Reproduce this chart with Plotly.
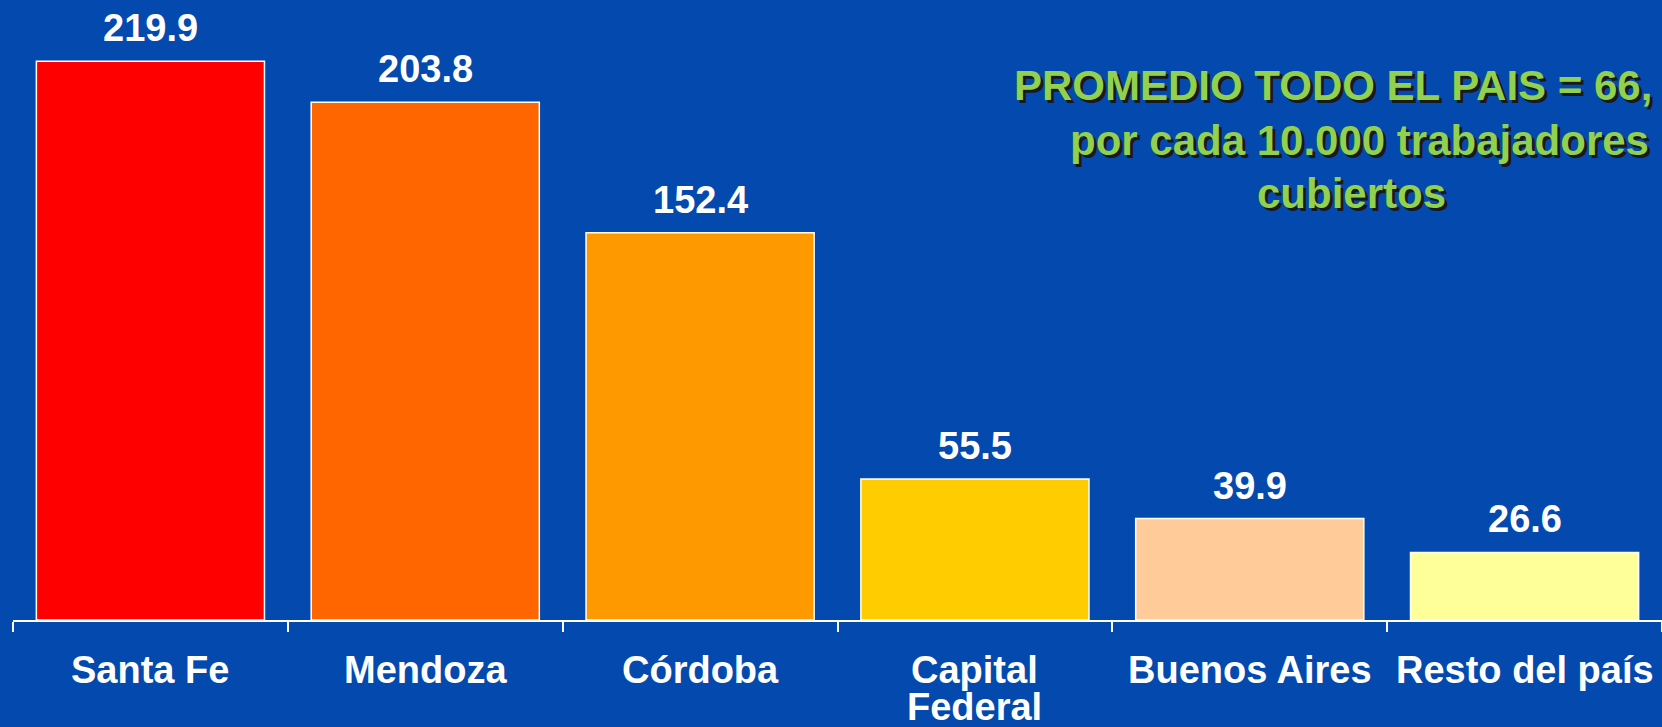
import plotly.graph_objects as go

categories = ["Santa Fe", "Mendoza", "Córdoba", "Capital\nFederal", "Buenos Aires", "Resto del país"]
values = [219.9, 203.8, 152.4, 55.5, 39.9, 26.6]
bar_colors = ["#FF0000", "#FF6600", "#FF9900", "#FFCC00", "#FFCC99", "#FFFF99"]
value_labels = ["219.9", "203.8", "152.4", "55.5", "39.9", "26.6"]
note_lines = ["PROMEDIO TODO EL PAIS = 66,", "por cada 10.000 trabajadores", "cubiertos"]

BG = "#0349AE"
FONT = "Liberation Sans, Arial, sans-serif"
W, H = 1662, 727
ML, MB = 13, 107
PW, PH = W - ML, H - MB

fig = go.Figure()
fig.add_trace(go.Bar(
    x=categories,
    y=values,
    marker=dict(color=bar_colors, line=dict(color="white", width=1.5)),
    hoverinfo="skip",
))

annotations = []
for c, v, t in zip(categories, values, value_labels):
    annotations.append(dict(
        x=c, y=v, xref="x", yref="y", text=t, showarrow=False,
        yanchor="bottom", yshift=10,
        font=dict(family=FONT, size=38, color="white", weight="bold"),
    ))
for c in categories:
    for i, line in enumerate(c.split("\n")):
        annotations.append(dict(
            x=c, y=0, xref="x", yref="y", text=line, showarrow=False,
            yanchor="middle", yshift=-(50 + 37 * i),
            font=dict(family=FONT, size=38, color="white", weight="bold"),
        ))

note_pos = [(1333, 85), (1359, 140), (1351, 193)]  # pixel centres (layout only)
for line, (px, py) in zip(note_lines, note_pos):
    annotations.append(dict(
        x=(px - ML) / PW, y=1 - py / PH, xref="paper", yref="paper",
        text=line, showarrow=False,
        xanchor="center", yanchor="middle",
        font=dict(family=FONT, size=42, color="#92D050", weight="bold",
                  shadow="3px 3px 0px #1a1a1a"),
    ))

fig.update_layout(
    width=W, height=H,
    paper_bgcolor=BG, plot_bgcolor=BG,
    margin=dict(l=ML, r=0, t=0, b=MB),
    bargap=0.17,
    showlegend=False,
    annotations=annotations,
    xaxis=dict(
        showticklabels=False, showgrid=False, zeroline=False,
        showline=True, linecolor="white", linewidth=2,
        ticks="outside", tickson="boundaries", ticklen=10,
        tickcolor="white", tickwidth=2,
    ),
    yaxis=dict(visible=False, range=[0, 244], showgrid=False, zeroline=False),
)

fig.write_html(
    "out.html",
    config={"displayModeBar": False},
    post_script="document.body.style.margin='0';document.body.style.overflow='hidden';document.body.style.background='" + BG + "';",
)
